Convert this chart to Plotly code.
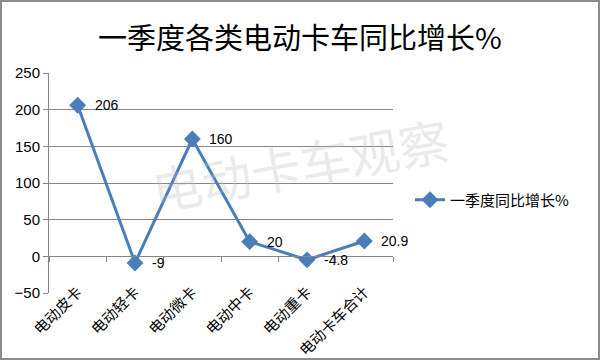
import plotly.graph_objects as go

categories = ["电动皮卡", "电动轻卡", "电动微卡", "电动中卡", "电动重卡", "电动卡车合计"]
growth = [206, -9, 160, 20, -4.8, 20.9]
value_labels = ["206", "-9", "160", "20", "-4.8", "20.9"]
series_name = "一季度同比增长%"
title_text = "一季度各类电动卡车同比增长%"
watermark = "电动卡车观察"

W, H = 600, 360
ML, MR, MT, MB = 49, 207, 73, 67
PW, PH = W - ML - MR, H - MT - MB

blue = "#4A7EBB"
cjk = "Noto Sans CJK SC"
num_font = "Liberation Sans"

def px_x(x):
    return (x - ML) / PW

def px_y(y):
    return (H - MB - y) / PH

fig = go.Figure()
fig.add_trace(go.Scatter(
    x=categories, y=growth, mode="lines+markers", name=series_name,
    line=dict(color=blue, width=3),
    marker=dict(symbol="diamond", size=13, color=blue),
    hoverinfo="skip",
))

annotations = []
for c, v, t in zip(categories, growth, value_labels):
    annotations.append(dict(x=c, y=v, xref="x", yref="y", text=t, showarrow=False,
                            xanchor="left", yanchor="middle", xshift=15,
                            font=dict(family=num_font, size=14, color="#000")))
annotations.append(dict(x=px_x(300), y=px_y(163), xref="paper", yref="paper",
                        text=watermark, showarrow=False, textangle=-10,
                        xanchor="center", yanchor="middle",
                        font=dict(family=cjk, size=50, color="rgba(190,190,190,0.33)")))
annotations.append(dict(x=px_x(300), y=px_y(36), xref="paper", yref="paper",
                        text=title_text, showarrow=False, xanchor="center", yanchor="middle",
                        font=dict(family=cjk, size=29, color="#000")))

fig.update_layout(
    width=W, height=H, margin=dict(l=ML, r=MR, t=MT, b=MB, autoexpand=False),
    paper_bgcolor="white", plot_bgcolor="white",
    showlegend=True,
    legend=dict(x=px_x(410), xanchor="left", y=px_y(200), yanchor="middle",
                font=dict(family=cjk, size=15, color="#000"), bgcolor="rgba(0,0,0,0)"),
    annotations=annotations,
    xaxis=dict(type="category", range=[-0.5, 5.5], anchor="free", position=50 / 300,
               showline=True, linecolor="#868686", linewidth=1, showgrid=False,
               ticks="outside", tickson="boundaries", ticklen=5, tickcolor="#868686",
               tickangle=-45, ticklabelstandoff=20, automargin=False,
               tickfont=dict(family=cjk, size=15, color="#000")),
    yaxis=dict(range=[-50, 250], dtick=50, tick0=0, showline=True, linecolor="#868686",
               linewidth=1, showgrid=True, gridcolor="#868686", gridwidth=1, zeroline=False,
               ticks="outside", ticklen=5, tickcolor="#868686", automargin=False,
               tickfont=dict(family=num_font, size=15, color="#000")),
    shapes=[dict(type="rect", xref="paper", yref="paper",
                 x0=px_x(1), x1=px_x(W - 1),
                 y0=px_y(H - 1), y1=px_y(1),
                 line=dict(color="#8C8C8C", width=2))],
)

fig.write_html("out.html", config={"displayModeBar": False},
               post_script="document.body.style.margin='0';document.body.style.overflow='hidden';")
